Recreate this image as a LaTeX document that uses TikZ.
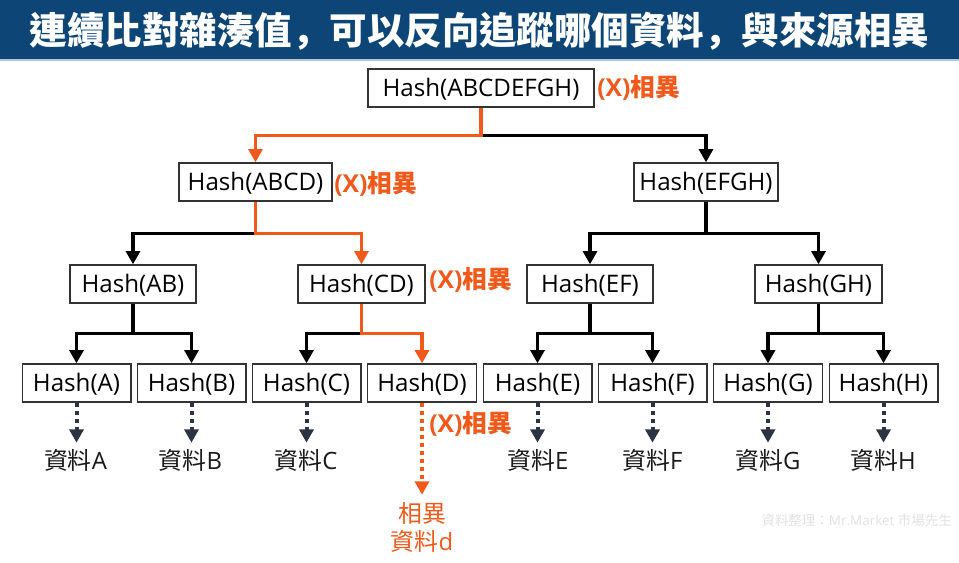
\documentclass[tikz,border=0pt]{standalone}
\usepackage{fontspec}
\setmainfont{Open Sans}
\newfontfamily\cjk{Noto Sans CJK TC}
\newfontfamily\cjkp{Noto Sans CJK SC}
\usetikzlibrary{arrows.meta}
\definecolor{hdr}{HTML}{0D4676}
\definecolor{hdredge}{HTML}{B5C6D6}
\definecolor{org}{HTML}{F0591A}
\definecolor{dk}{HTML}{2B3442}
\definecolor{src}{HTML}{E2E2E2}
\tikzset{
  hbox/.style={draw=black!80,line width=1pt,fill=white,inner sep=0pt,minimum height=28.5pt,text height=14pt,text depth=1pt,font=\fontsize{18.1}{21}\selectfont},
  tree/.style={line width=2.7pt,-{Triangle[length=10pt,width=10.5pt]},line join=miter},
  blk/.style={tree,draw=black},
  orng/.style={tree,draw=org},
  dotline/.style={line width=3pt,dash pattern=on 3pt off 3pt,-{Triangle[length=10pt,width=10.5pt]}},
  dotd/.style={dotline,draw=dk},
  doto/.style={dotline,draw=org},
  xmark/.style={text=org,font=\fontsize{18.5}{21}\selectfont\bfseries,inner sep=0pt,anchor=west},
  dat/.style={inner sep=0pt,font=\fontsize{17.9}{21}\selectfont,text=black!90},
}
\begin{document}
\begin{tikzpicture}[x=0.75pt,y=-0.75pt]
\useasboundingbox (0,0) rectangle (959,562);
\fill[white] (0,0) rectangle (959,562);
\fill[hdr] (0,0) rectangle (959,60);
\draw[hdredge,line width=0.8pt] (0,60) -- (959,60);
\node[text=white,inner sep=0pt,font=\fontsize{28.1}{32}\selectfont\bfseries] (title) at (479.5,31.5) {\cjk 連續比對雜湊值{\cjkp ，}可以反向追蹤哪個資料{\cjkp ，}與來源相異};
% boxes
\node[hbox,minimum width=169.5pt] (root) at (481,88) {Hash(ABCDEFGH)};
\node[hbox,minimum width=114.75pt] (abcd) at (255.5,182) {Hash(ABCD)};
\node[hbox,minimum width=108pt] (efgh) at (706,182) {Hash(EFGH)};
\node[hbox,minimum width=94.5pt] (ab) at (133,284) {Hash(AB)};
\node[hbox,minimum width=95.25pt] (cd) at (361.5,284) {Hash(CD)};
\node[hbox,minimum width=94.5pt] (ef) at (590,284) {Hash(EF)};
\node[hbox,minimum width=95.25pt] (gh) at (818.5,284) {Hash(GH)};
\node[hbox,minimum width=81.5pt] (a) at (76.5,383) {Hash(A)};
\node[hbox,minimum width=81.5pt] (b) at (191.5,383) {Hash(B)};
\node[hbox,minimum width=81.5pt] (c) at (306.5,383) {Hash(C)};
\node[hbox,minimum width=81.5pt] (d) at (422,383) {Hash(D)};
\node[hbox,minimum width=81.5pt] (e) at (537.5,383) {Hash(E)};
\node[hbox,minimum width=81.5pt] (f) at (652.5,383) {Hash(F)};
\node[hbox,minimum width=81.5pt] (g) at (768,383) {Hash(G)};
\node[hbox,minimum width=81.5pt] (h) at (883.5,383) {Hash(H)};
% data labels
\node[dat] (da) at (75.5,460) {{\cjk 資料}A};
\node[dat] (db) at (190.5,460) {{\cjk 資料}B};
\node[dat] (dc) at (306,460) {{\cjk 資料}C};
\node[dat] (de) at (538,460) {{\cjk 資料}E};
\node[dat] (df) at (652.5,460) {{\cjk 資料}F};
\node[dat] (dg) at (768,460) {{\cjk 資料}G};
\node[dat] (dh) at (883,460) {{\cjk 資料}H};
\node[dat,text=org,align=center,font=\fontsize{17.9}{21}\selectfont] (dd) at (422,527) {{\cjk 相異}\\{\cjk 資料}d};
% difference marks
\node[xmark] (m1) at (597,88) {(X){\cjk 相異}};
\node[xmark] (m2) at (334,184) {(X){\cjk 相異}};
\node[xmark] (m3) at (429,280) {(X){\cjk 相異}};
\node[xmark] (m4) at (429,424) {(X){\cjk 相異}};
% source
\node[text=src,inner sep=0pt,anchor=east,font=\fontsize{10.1}{12}\selectfont] (source) at (952,520) {{\cjk 資料整理：}Mr.Market {\cjk 市場先生}};
% connectors
\draw[blk] (root.south) -- ++(0,28) -| (efgh.north);
\draw[orng] (root.south) -- ++(0,28) -| (abcd.north);
\draw[blk] (abcd.south) -- ++(0,32) -| (ab.north);
\draw[orng] (abcd.south) -- ++(0,32) -| (cd.north);
\draw[blk] (efgh.south) -- ++(0,32) -| (ef.north);
\draw[blk] (efgh.south) -- ++(0,32) -| (gh.north);
\draw[blk] (ab.south) -- ++(0,30) -| (a.north);
\draw[blk] (ab.south) -- ++(0,30) -| (b.north);
\draw[blk] (cd.south) -- ++(0,30) -| (c.north);
\draw[orng] (cd.south) -- ++(0,30) -| (d.north);
\draw[blk] (ef.south) -- ++(0,30) -| (e.north);
\draw[blk] (ef.south) -- ++(0,30) -| (f.north);
\draw[blk] (gh.south) -- ++(0,30) -| (g.north);
\draw[blk] (gh.south) -- ++(0,30) -| (h.north);
\draw[dotd] (a.south) -- ++(0,40);
\draw[dotd] (b.south) -- ++(0,40);
\draw[dotd] (c.south) -- ++(0,40);
\draw[doto] (d.south) -- ++(0,92);
\draw[dotd] (e.south) -- ++(0,40);
\draw[dotd] (f.south) -- ++(0,40);
\draw[dotd] (g.south) -- ++(0,40);
\draw[dotd] (h.south) -- ++(0,40);
\end{tikzpicture}
\end{document}
